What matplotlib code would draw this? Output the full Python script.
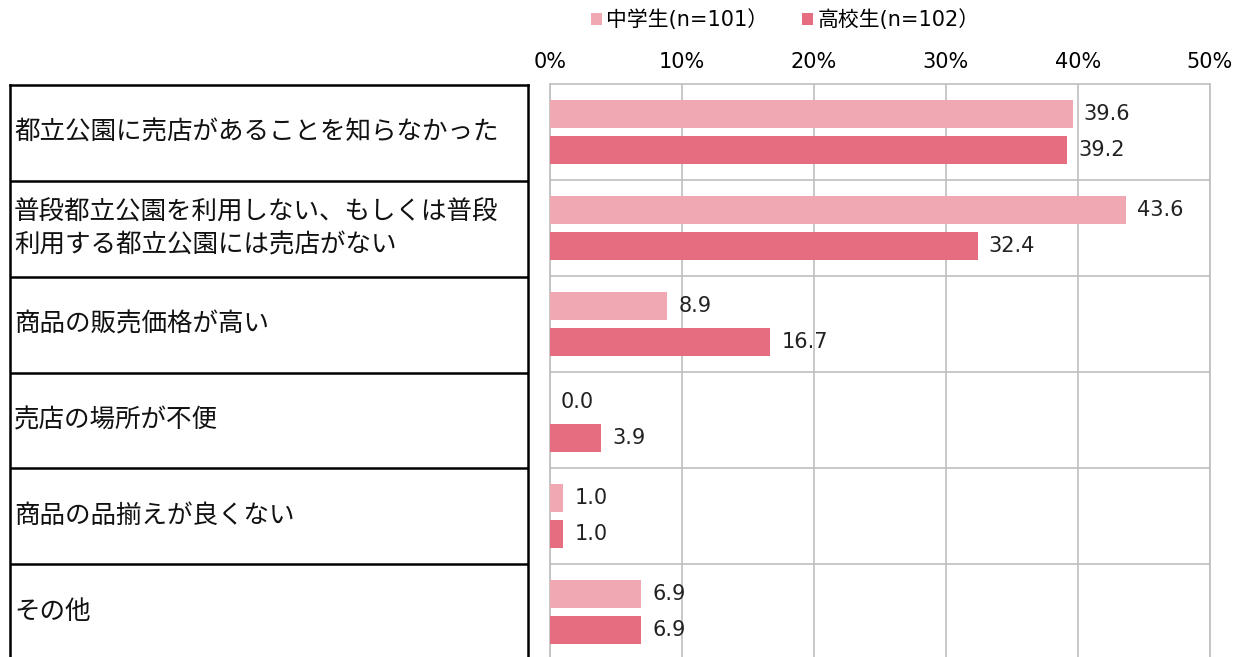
import matplotlib.pyplot as plt
import numpy as np

plt.rcParams['font.family'] = ['Noto Sans CJK JP', 'DejaVu Sans']

# Categories and values (%)
categories = [
    '都立公園に売店があることを知らなかった',
    '普段都立公園を利用しない、もしくは普段\n利用する都立公園には売店がない',
    '商品の販売価格が高い',
    '売店の場所が不便',
    '商品の品揃えが良くない',
    'その他',
]
series_names = ['中学生(n=101）', '高校生(n=102）']
middle_school = [39.6, 43.6, 8.9, 0.0, 1.0, 6.9]
high_school = [39.2, 32.4, 16.7, 3.9, 1.0, 6.9]
xticks = [0, 10, 20, 30, 40, 50]

colors = ['#F0A8B3', '#E56D7F']
grid_color = '#BFBFBF'
num_family = ['DejaVu Sans', 'Noto Sans CJK JP']

W, H = 1255, 657
fig = plt.figure(figsize=(W / 100, H / 100), dpi=100)

# Plot area in pixel coordinates
left, right, top, bottom = 550, 1210, 84, 660
ax = fig.add_axes([left / W, 1 - bottom / H, (right - left) / W, (bottom - top) / H])

y = np.arange(len(categories))
h = 0.29
off = 0.19
b1 = ax.barh(y - off, middle_school, height=h, color=colors[0], label=series_names[0], zorder=3)
b2 = ax.barh(y + off, high_school, height=h, color=colors[1], label=series_names[1], zorder=3)

for bars, vals in [(b1, middle_school), (b2, high_school)]:
    for bar, v in zip(bars, vals):
        ax.annotate(f'{v:.1f}', (bar.get_width(), bar.get_y() + bar.get_height() / 2),
                    xytext=(8, 0), textcoords='offset points', ha='left', va='center',
                    fontsize=15, color='#222222', family=num_family)

ax.set_xlim(0, 50)
ax.set_ylim(len(categories) - 0.5, -0.5)
ax.set_xticks(xticks)
ax.set_xticklabels([f'{t}%' for t in xticks], fontsize=15, family=num_family)
ax.xaxis.tick_top()
ax.tick_params(axis='x', length=0, pad=9)
ax.set_yticks([])
ax.grid(axis='x', color=grid_color, linewidth=1.2, zorder=0)
for yb in np.arange(0.5, len(categories) - 0.5, 1):
    ax.axhline(yb, color=grid_color, linewidth=1.2, zorder=0)
for s in ax.spines.values():
    s.set_color(grid_color)
    s.set_linewidth(1.2)
ax.spines['bottom'].set_visible(False)

# Left label table
tl, tr = 10, 528
tax = fig.add_axes([tl / W, 1 - bottom / H, (tr - tl) / W, (bottom - 85) / H])
tax.set_xlim(0, 1)
tax.set_ylim(len(categories) - 0.5, -0.5)
tax.set_xticks([])
tax.set_yticks([])
for s in tax.spines.values():
    s.set_color('black')
    s.set_linewidth(1.8)
tax.spines['bottom'].set_visible(False)
for yb in np.arange(0.5, len(categories) - 0.5, 1):
    tax.axhline(yb, color='black', linewidth=1.8)
for i, c in enumerate(categories):
    tax.text(0.008, i, c, ha='left', va='center', fontsize=18.4, color='#111111',
             linespacing=1.35)

fig.legend(handles=[b1, b2], loc='center', bbox_to_anchor=(785 / W, 1 - 20 / H),
           ncol=2, frameon=False, prop={'family': num_family, 'size': 15},
           handlelength=0.55, handleheight=0.55, handletextpad=0.2, columnspacing=1.6)

fig.savefig('out.png', dpi=100)
